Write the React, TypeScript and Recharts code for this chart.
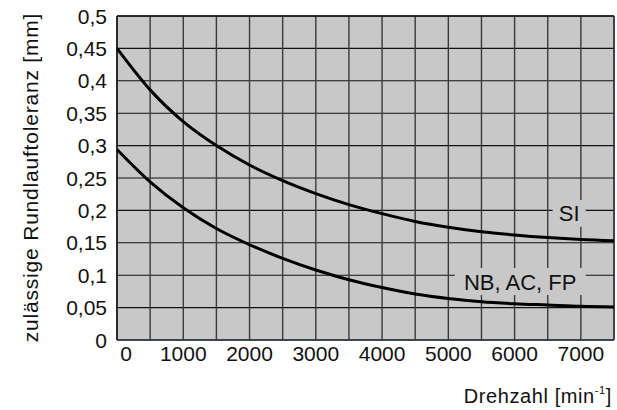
import React from "react";
import {
  LineChart,
  Line,
  XAxis,
  YAxis,
  CartesianGrid,
  ReferenceArea,
  ReferenceLine,
  Customized,
} from "recharts";

const rpm = [0, 500, 1000, 1500, 2000, 2500, 3000, 3500, 4000, 4500, 5000, 5500, 6000, 6500, 7000, 7500];
const siValues = [0.45, 0.386, 0.337, 0.3, 0.27, 0.246, 0.226, 0.209, 0.195, 0.183, 0.174, 0.167, 0.162, 0.158, 0.155, 0.153];
const nbValues = [0.294, 0.244, 0.204, 0.172, 0.147, 0.126, 0.108, 0.093, 0.081, 0.071, 0.064, 0.059, 0.056, 0.054, 0.052, 0.051];

const xTicks = [0, 500, 1000, 1500, 2000, 2500, 3000, 3500, 4000, 4500, 5000, 5500, 6000, 6500, 7000, 7500];
const xTickLabels: Record<number, string> = {
  0: "0", 1000: "1000", 2000: "2000", 3000: "3000", 4000: "4000", 5000: "5000", 6000: "6000", 7000: "7000",
};
const yTicks = [0, 0.05, 0.1, 0.15, 0.2, 0.25, 0.3, 0.35, 0.4, 0.45, 0.5];
const yTickLabels = ["0", "0,05", "0,1", "0,15", "0,2", "0,25", "0,3", "0,35", "0,4", "0,45", "0,5"];

const yTitle = "zulässige Rundlauftoleranz [mm]";
const xTitle = "Drehzahl [min";
const xTitleSup = "-1";
const siLabel = "SI";
const nbLabel = "NB, AC, FP";

const data = rpm.map((r, i) => ({ rpm: r, si: siValues[i], nb: nbValues[i] }));

const FONT = "'Liberation Sans', Arial, Helvetica, sans-serif";
const BG = "#c8c8c8";
const TXT = "#111";

const XTick = (props: any) => {
  const { x, y, payload } = props;
  const label = xTickLabels[payload.value];
  if (!label) return null;
  return (
    <text x={x + (payload.value === 0 ? 9 : 0)} y={y} dy={15} textAnchor="middle" fontSize={21} fontFamily={FONT} fill={TXT}>
      {label}
    </text>
  );
};

const YTick = (props: any) => {
  const { x, y, index } = props;
  return (
    <text x={x} y={y} dy={7.5} textAnchor="end" fontSize={21} fontFamily={FONT} fill={TXT}>
      {yTickLabels[index]}
    </text>
  );
};

const Titles = () => (
  <g>
    <text
      transform="translate(38,177.5) rotate(-90)"
      textAnchor="middle"
      fontSize={21}
      fontFamily={FONT}
      fill={TXT}
      letterSpacing={0.8}
    >
      {yTitle}
    </text>
    <text x={612} y={403} textAnchor="end" fontSize={20} fontFamily={FONT} fill={TXT} letterSpacing={0.6}>
      {xTitle}
      <tspan dy={-9} fontSize={11}>{xTitleSup}</tspan>
      <tspan dy={9}>]</tspan>
    </text>
  </g>
);

const BoxLabel = (text: string) => (props: any) => {
  const vb = props.viewBox || {};
  const cx = vb.x + vb.width / 2;
  const cy = vb.y + vb.height / 2;
  return (
    <text x={cx} y={cy} dy={8} textAnchor="middle" fontSize={22} fontFamily={FONT} fill={TXT}>
      {text}
    </text>
  );
};

export default function App() {
  return (
    <div style={{ position: "absolute", left: 0, top: 0, width: 617, height: 410 }}>
      <LineChart width={617} height={410} data={data} margin={{ top: 16, right: 3, left: 0, bottom: 40 }}>
        <CartesianGrid vertical={false} fill={BG} stroke="#111" strokeWidth={1.1} />
        <CartesianGrid horizontal={false} stroke="#3a3a3a" strokeWidth={1.4} />
        <XAxis
          dataKey="rpm"
          type="number"
          domain={[0, 7500]}
          ticks={xTicks}
          interval={0}
          tick={<XTick />}
          tickLine={false}
          tickSize={0}
          tickMargin={6}
          height={30}
          axisLine={{ stroke: "#22364a", strokeWidth: 1.6 }}
        />
        <YAxis
          type="number"
          domain={[0, 0.5]}
          ticks={yTicks}
          interval={0}
          tick={<YTick />}
          tickLine={false}
          tickSize={0}
          tickMargin={10}
          width={117}
          axisLine={{ stroke: "#111", strokeWidth: 1.4 }}
        />
        <ReferenceLine y={0.5} stroke="#111" strokeWidth={1.4} />
        <ReferenceLine x={7500} stroke="#22364a" strokeWidth={1.4} />
        <ReferenceArea x1={6575} x2={7073} y1={0.1747} y2={0.2159} fill={BG} fillOpacity={1} stroke="none" label={BoxLabel(siLabel)} />
        <ReferenceArea x1={5096} x2={7073} y1={0.0694} y2={0.111} fill={BG} fillOpacity={1} stroke="none" label={BoxLabel(nbLabel)} />
        <Line type="monotone" dataKey="si" stroke="#000" strokeWidth={3} dot={false} isAnimationActive={false} />
        <Line type="monotone" dataKey="nb" stroke="#000" strokeWidth={3} dot={false} isAnimationActive={false} />
        <Customized component={Titles} />
      </LineChart>
    </div>
  );
}
